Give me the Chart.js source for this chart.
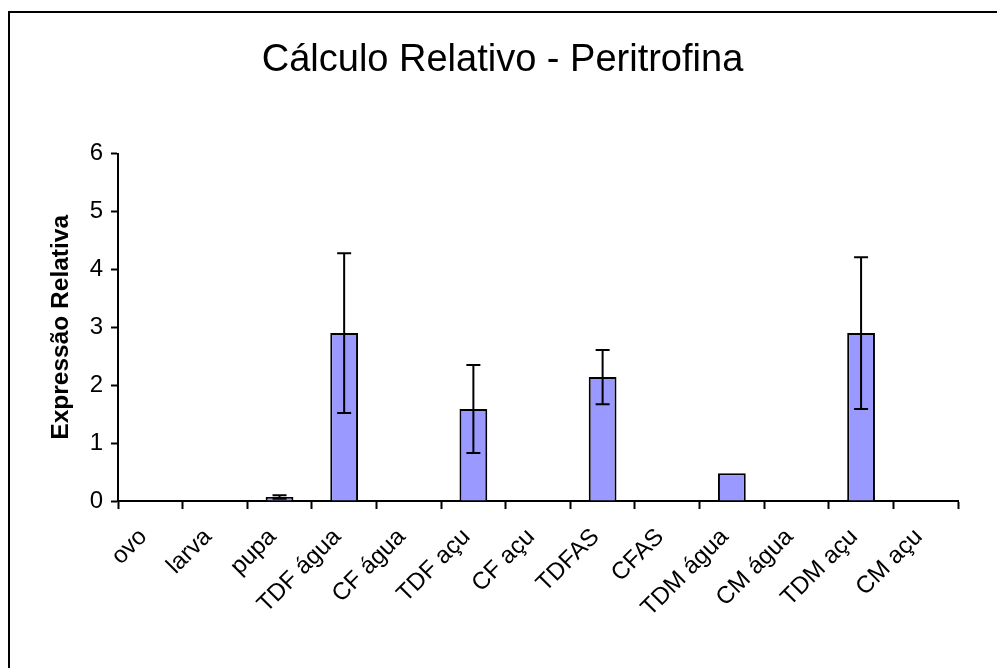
<!DOCTYPE html>
<html lang="pt">
<head>
    <title>Cálculo Relativo - Peritrofina</title>
    <script src="https://cdn.jsdelivr.net/npm/chart.js"></script>
    <style>
        body { margin: 0; background: #fff; }
        #wrap { width: 997px; height: 668px; }
    </style>
</head>
<body>
    <div id="wrap"><canvas id="chart" width="997" height="668"></canvas></div>

    <script>
        const categories = ["ovo", "larva", "pupa", "TDF água", "CF água", "TDF açu", "CF açu",
            "TDFAS", "CFAS", "TDM água", "CM água", "TDM açu", "CM açu"];
        const values = [0, 0, 0.07, 2.90, 0, 1.59, 0, 2.14, 0, 0.48, 0, 2.90, 0];
        const errors = [0, 0, 0.03, 1.38, 0, 0.76, 0, 0.47, 0, 0, 0, 1.31, 0];
        const yTicks = [0, 1, 2, 3, 4, 5, 6];

        const font = "'Liberation Sans', Arial, sans-serif";

        // left + top frame like the original picture
        const framePlugin = {
            id: "frame",
            beforeDraw(chart) {
                const ctx = chart.ctx;
                ctx.save();
                ctx.fillStyle = "#fff";
                ctx.fillRect(0, 0, chart.width, chart.height);
                ctx.strokeStyle = "#000";
                ctx.lineWidth = 2;
                ctx.beginPath();
                ctx.moveTo(9, chart.height);
                ctx.lineTo(9, 12);
                ctx.lineTo(chart.width, 12);
                ctx.stroke();
                ctx.restore();
            }
        };

        const errorBars = {
            id: "errorBars",
            afterDatasetsDraw(chart) {
                const ctx = chart.ctx;
                const y = chart.scales.y;
                const meta = chart.getDatasetMeta(0);
                ctx.save();
                ctx.strokeStyle = "#000";
                ctx.lineWidth = 2;
                meta.data.forEach((bar, i) => {
                    const e = errors[i];
                    if (!e) return;
                    const top = y.getPixelForValue(values[i] + e);
                    const bot = y.getPixelForValue(values[i] - e);
                    const cap = 7;
                    ctx.beginPath();
                    ctx.moveTo(bar.x, top); ctx.lineTo(bar.x, bot);
                    ctx.moveTo(bar.x - cap, top); ctx.lineTo(bar.x + cap, top);
                    ctx.moveTo(bar.x - cap, bot); ctx.lineTo(bar.x + cap, bot);
                    ctx.stroke();
                });
                ctx.restore();
            }
        };

        new Chart(document.getElementById("chart"), {
            type: "bar",
            data: {
                labels: categories,
                datasets: [{
                    data: values,
                    backgroundColor: "#9999ff",
                    borderColor: "#000",
                    borderWidth: 2,
                    barPercentage: 0.43,
                    categoryPercentage: 1
                }]
            },
            options: {
                responsive: false,
                animation: false,
                layout: { padding: { left: 47, right: 39, top: 0, bottom: 0 } },
                plugins: {
                    legend: { display: false },
                    tooltip: { enabled: false },
                    title: {
                        display: true,
                        text: "Cálculo Relativo - Peritrofina",
                        color: "#000",
                        font: { family: font, size: 38, weight: "normal" },
                        padding: { top: 38, bottom: 70 }
                    }
                },
                scales: {
                    x: {
                        grid: { display: true, drawOnChartArea: false, tickLength: 8, tickColor: "#000", tickWidth: 2, offset: true },
                        border: { color: "#000", width: 2 },
                        ticks: {
                            color: "#000",
                            font: { family: font, size: 24 },
                            maxRotation: 45,
                            minRotation: 45,
                            autoSkip: false,
                            padding: 14,
                            labelOffset: -7
                        },
                        afterFit(scale) { scale.height = 167; }
                    },
                    y: {
                        min: 0,
                        max: 6,
                        afterBuildTicks(scale) { scale.ticks = yTicks.map(v => ({ value: v })); },
                        grid: { display: true, drawOnChartArea: false, tickLength: 7, tickColor: "#000", tickWidth: 2 },
                        border: { color: "#000", width: 2 },
                        ticks: { color: "#000", font: { family: font, size: 24 }, padding: 8 },
                        title: {
                            display: true,
                            text: "Expressão Relativa",
                            color: "#000",
                            font: { family: font, size: 24.5, weight: "bold" },
                            padding: 0
                        },
                        afterFit(scale) { scale.width = 71; }
                    }
                }
            },
            plugins: [framePlugin, errorBars]
        });
    </script>
</body>
</html>
